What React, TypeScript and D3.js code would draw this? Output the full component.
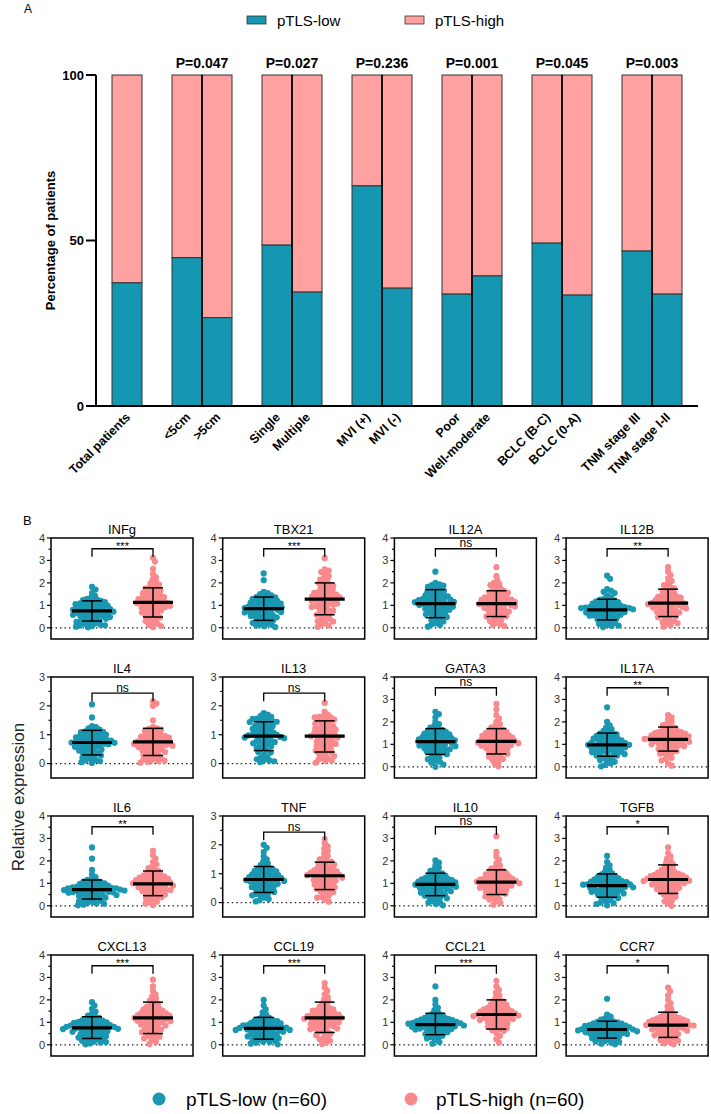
import * as d3 from 'd3'

const FONT = 'Arial, "Liberation Sans", Helvetica, sans-serif'
const TEAL = '#1597b1'
const PINK = '#ffa1a1'
const DOT_LOW = '#1a97b1'
const DOT_HIGH = '#f8898c'

// ---- panel A: stacked percentage bars
const barLabels = ['Total patients', '<5cm', '>5cm', 'Single', 'Multiple', 'MVI (+)', 'MVI (-)', 'Poor', 'Well-moderate', 'BCLC (B-C)', 'BCLC (0-A)', 'TNM stage III', 'TNM stage I-II']
const lowPercent = [37.2, 44.8, 26.7, 48.6, 34.4, 66.5, 35.6, 33.8, 39.3, 49.2, 33.5, 46.8, 33.8]
const pLabels = ['P=0.047', 'P=0.027', 'P=0.236', 'P=0.001', 'P=0.045', 'P=0.003']
const percentTicks = [0, 50, 100]

// ---- panel B: expression dot plots
const genes = ['INFg', 'TBX21', 'IL12A', 'IL12B', 'IL4', 'IL13', 'GATA3', 'IL17A', 'IL6', 'TNF', 'IL10', 'TGFB', 'CXCL13', 'CCL19', 'CCL21', 'CCR7']
const yMax = [4, 4, 4, 4, 3, 3, 4, 4, 4, 3, 4, 4, 4, 4, 4, 4]
const sigMarks = ['***', '***', 'ns', '**', 'ns', 'ns', 'ns', '**', '**', 'ns', 'ns', '*', '***', '***', '***', '*']
const lowMean = [0.75, 0.85, 1.08, 0.8, 0.73, 0.95, 1.12, 0.98, 0.72, 0.8, 0.95, 0.9, 0.75, 0.73, 0.9, 0.68]
const lowSdMin = [0.3, 0.33, 0.45, 0.35, 0.3, 0.45, 0.55, 0.47, 0.3, 0.35, 0.45, 0.38, 0.28, 0.25, 0.45, 0.3]
const lowSdMax = [1.2, 1.37, 1.7, 1.27, 1.15, 1.45, 1.7, 1.5, 1.15, 1.25, 1.45, 1.42, 1.25, 1.22, 1.4, 1.05]
const highMean = [1.13, 1.28, 1.08, 1.1, 0.75, 0.95, 1.13, 1.22, 0.98, 0.93, 1.05, 1.17, 1.2, 1.2, 1.35, 0.88]
const highSdMin = [0.48, 0.58, 0.5, 0.5, 0.28, 0.4, 0.57, 0.7, 0.45, 0.45, 0.5, 0.55, 0.5, 0.55, 0.7, 0.33]
const highSdMax = [1.78, 2.0, 1.65, 1.72, 1.22, 1.48, 1.7, 1.77, 1.55, 1.4, 1.6, 1.82, 1.9, 1.9, 2.0, 1.45]

const infgLow = [0.02, 0.05, 0.07, 0.1, 0.11, 0.14, 0.17, 0.2, 0.23, 0.26, 0.28, 0.32, 0.35, 0.37, 0.4, 0.43, 0.46, 0.48, 0.51, 0.54, 0.56, 0.58, 0.61, 0.63, 0.65, 0.67, 0.7, 0.72, 0.74, 0.76, 0.78, 0.8, 0.82, 0.84, 0.87, 0.89, 0.91, 0.94, 0.96, 0.99, 1.01, 1.04, 1.06, 1.09, 1.11, 1.14, 1.17, 1.2, 1.23, 1.26, 1.29, 1.05, 0.86, 0.69, 0.53, 1.35, 1.42, 1.55, 1.7, 1.82]
const infgHigh = [0.03, 0.08, 0.12, 0.18, 0.22, 0.3, 0.35, 0.41, 0.46, 0.5, 0.55, 0.6, 0.64, 0.68, 0.72, 0.77, 0.8, 0.84, 0.88, 0.92, 0.95, 0.98, 1.01, 1.04, 1.07, 1.1, 1.12, 1.15, 1.17, 1.2, 1.23, 1.26, 1.28, 1.31, 1.34, 1.37, 1.4, 1.43, 1.46, 1.5, 1.54, 1.58, 1.62, 1.66, 1.7, 1.75, 1.8, 1.86, 1.92, 1.98, 2.05, 2.15, 2.25, 2.38, 2.62, 2.95, 3.12, 1.0, 1.13, 0.9]
const tbx21Low = [0.03, 0.07, 0.1, 0.13, 0.18, 0.22, 0.27, 0.3, 0.34, 0.38, 0.42, 0.45, 0.49, 0.53, 0.56, 0.6, 0.63, 0.66, 0.7, 0.73, 0.76, 0.79, 0.82, 0.85, 0.87, 0.9, 0.92, 0.95, 0.97, 1.0, 1.02, 1.05, 1.07, 1.1, 1.12, 1.15, 1.18, 1.2, 1.23, 1.26, 1.29, 1.32, 1.36, 1.4, 1.45, 1.5, 1.55, 0.88, 0.8, 0.75, 0.94, 1.08, 0.58, 0.47, 0.15, 0.68, 1.38, 1.6, 2.12, 2.42]
const tbx21High = [0.04, 0.1, 0.15, 0.2, 0.28, 0.34, 0.4, 0.46, 0.52, 0.58, 0.64, 0.7, 0.76, 0.82, 0.88, 0.93, 0.98, 1.03, 1.08, 1.12, 1.16, 1.2, 1.24, 1.27, 1.3, 1.33, 1.36, 1.4, 1.44, 1.48, 1.52, 1.56, 1.6, 1.64, 1.68, 1.72, 1.77, 1.82, 1.87, 1.92, 1.97, 2.02, 2.08, 2.15, 2.22, 2.3, 2.4, 2.48, 2.55, 2.6, 3.1, 1.25, 1.1, 0.95, 0.6, 0.3, 1.42, 1.5, 1.0, 0.78]
const il12aLow = [0.05, 0.12, 0.2, 0.28, 0.35, 0.42, 0.48, 0.55, 0.6, 0.65, 0.7, 0.75, 0.8, 0.85, 0.9, 0.94, 0.98, 1.02, 1.05, 1.08, 1.11, 1.14, 1.17, 1.2, 1.23, 1.26, 1.29, 1.32, 1.36, 1.4, 1.44, 1.48, 1.52, 1.56, 1.6, 1.64, 1.68, 1.72, 1.76, 1.82, 1.88, 1.93, 2.0, 2.5, 1.0, 1.1, 0.88, 0.62, 0.3, 1.3, 1.15, 0.95, 0.72, 0.5, 1.45, 0.15, 1.25, 0.82, 1.06, 1.9]
const il12aHigh = [0.08, 0.15, 0.22, 0.3, 0.38, 0.45, 0.52, 0.58, 0.63, 0.68, 0.72, 0.77, 0.81, 0.85, 0.89, 0.93, 0.97, 1.0, 1.03, 1.06, 1.09, 1.12, 1.15, 1.18, 1.21, 1.24, 1.27, 1.3, 1.33, 1.36, 1.4, 1.44, 1.48, 1.52, 1.56, 1.6, 1.65, 1.7, 1.76, 1.82, 1.9, 2.0, 2.12, 2.3, 2.7, 1.05, 0.95, 1.1, 0.6, 0.35, 1.25, 0.83, 1.2, 0.5, 1.38, 0.12, 1.0, 0.75, 1.58, 1.95]
const il12bLow = [0.03, 0.08, 0.12, 0.17, 0.22, 0.27, 0.32, 0.37, 0.42, 0.46, 0.5, 0.54, 0.58, 0.62, 0.65, 0.68, 0.71, 0.74, 0.77, 0.8, 0.82, 0.84, 0.86, 0.88, 0.9, 0.93, 0.96, 0.99, 1.02, 1.05, 1.08, 1.11, 1.14, 1.18, 1.22, 1.26, 1.3, 1.36, 1.45, 1.55, 1.65, 1.72, 2.18, 2.32, 0.85, 0.79, 0.7, 0.6, 0.92, 0.45, 0.25, 0.1, 1.0, 0.75, 0.55, 0.88, 1.2, 0.95, 0.66, 1.6]
const il12bHigh = [0.05, 0.1, 0.18, 0.25, 0.32, 0.4, 0.47, 0.53, 0.58, 0.63, 0.68, 0.73, 0.78, 0.82, 0.86, 0.9, 0.94, 0.98, 1.02, 1.05, 1.08, 1.11, 1.14, 1.17, 1.2, 1.23, 1.26, 1.3, 1.34, 1.38, 1.42, 1.46, 1.5, 1.55, 1.6, 1.65, 1.7, 1.76, 1.82, 1.9, 1.98, 2.08, 2.2, 2.35, 2.5, 2.7, 1.0, 1.12, 0.95, 0.7, 0.5, 0.2, 1.15, 1.28, 0.88, 0.6, 1.4, 1.07, 0.8, 0.3]
const il4Low = [0.02, 0.05, 0.08, 0.12, 0.16, 0.2, 0.24, 0.28, 0.32, 0.36, 0.4, 0.44, 0.48, 0.52, 0.55, 0.58, 0.61, 0.64, 0.67, 0.7, 0.72, 0.74, 0.76, 0.78, 0.8, 0.82, 0.85, 0.88, 0.91, 0.94, 0.97, 1.0, 1.03, 1.06, 1.09, 1.12, 1.15, 1.18, 1.22, 1.26, 1.3, 1.6, 2.05, 0.73, 0.69, 0.77, 0.6, 0.5, 0.9, 0.35, 0.1, 0.84, 1.0, 0.65, 0.45, 1.1, 0.25, 0.95, 0.7, 0.8]
const il4High = [0.03, 0.06, 0.1, 0.14, 0.18, 0.22, 0.26, 0.3, 0.34, 0.38, 0.42, 0.46, 0.5, 0.54, 0.57, 0.6, 0.63, 0.66, 0.69, 0.72, 0.75, 0.78, 0.81, 0.84, 0.87, 0.9, 0.93, 0.96, 0.99, 1.02, 1.06, 1.1, 1.14, 1.18, 1.22, 1.26, 1.5, 2.0, 2.08, 2.16, 0.74, 0.7, 0.8, 0.62, 0.52, 0.4, 0.2, 0.08, 0.85, 0.95, 0.68, 0.58, 1.0, 1.2, 0.9, 0.45, 0.3, 0.76, 0.65, 0.12]
const il13Low = [0.05, 0.1, 0.15, 0.22, 0.3, 0.38, 0.45, 0.5, 0.55, 0.6, 0.65, 0.7, 0.75, 0.8, 0.84, 0.88, 0.92, 0.96, 1.0, 1.04, 1.08, 1.12, 1.16, 1.2, 1.24, 1.28, 1.32, 1.36, 1.4, 1.44, 1.48, 1.52, 1.56, 1.6, 1.65, 1.7, 1.75, 0.95, 0.9, 1.0, 0.85, 0.78, 1.1, 1.3, 1.5, 0.68, 0.4, 0.2, 0.08, 1.45, 1.55, 1.2, 0.98, 0.58, 1.62, 0.72, 1.38, 0.92, 1.05, 0.12]
const il13High = [0.03, 0.08, 0.14, 0.2, 0.26, 0.32, 0.38, 0.44, 0.5, 0.55, 0.6, 0.65, 0.7, 0.75, 0.8, 0.85, 0.9, 0.95, 1.0, 1.05, 1.1, 1.15, 1.2, 1.25, 1.3, 1.35, 1.4, 1.45, 1.5, 1.55, 1.6, 1.65, 1.7, 1.8, 2.1, 0.92, 0.98, 1.02, 0.88, 0.62, 0.45, 0.3, 0.1, 1.12, 1.22, 1.38, 1.48, 0.72, 0.82, 1.6, 0.52, 1.08, 0.95, 0.18, 1.3, 1.62, 0.68, 0.4, 1.18, 1.52]
const gata3Low = [0.0, 0.1, 0.18, 0.26, 0.34, 0.42, 0.5, 0.56, 0.62, 0.68, 0.73, 0.78, 0.83, 0.88, 0.92, 0.96, 1.0, 1.04, 1.08, 1.12, 1.16, 1.2, 1.24, 1.28, 1.32, 1.36, 1.4, 1.44, 1.48, 1.52, 1.56, 1.6, 1.65, 1.7, 1.75, 1.82, 1.9, 2.0, 2.2, 2.35, 2.45, 1.1, 1.15, 1.05, 0.95, 0.8, 0.65, 0.4, 1.3, 1.25, 1.45, 1.6, 0.9, 1.0, 1.18, 0.7, 1.38, 0.22, 1.22, 0.85]
const gata3High = [0.02, 0.12, 0.22, 0.3, 0.38, 0.45, 0.52, 0.58, 0.64, 0.7, 0.75, 0.8, 0.85, 0.9, 0.94, 0.98, 1.02, 1.06, 1.1, 1.14, 1.18, 1.22, 1.26, 1.3, 1.34, 1.38, 1.42, 1.46, 1.5, 1.55, 1.6, 1.65, 1.7, 1.76, 1.82, 1.9, 2.0, 2.15, 2.3, 2.55, 2.8, 1.12, 1.08, 1.2, 0.96, 0.88, 0.6, 0.35, 1.28, 1.4, 1.0, 0.72, 1.15, 1.5, 0.82, 1.35, 0.5, 1.05, 1.62, 1.25]
const il17aLow = [0.02, 0.08, 0.15, 0.22, 0.3, 0.37, 0.44, 0.5, 0.56, 0.62, 0.67, 0.72, 0.77, 0.82, 0.86, 0.9, 0.94, 0.98, 1.02, 1.06, 1.1, 1.14, 1.18, 1.22, 1.26, 1.3, 1.35, 1.4, 1.45, 1.5, 1.55, 1.6, 1.68, 1.75, 1.85, 2.0, 2.65, 0.95, 1.0, 0.88, 0.8, 0.7, 0.58, 0.4, 1.12, 1.25, 1.38, 0.92, 1.05, 0.6, 0.25, 1.2, 0.75, 1.48, 0.84, 1.08, 0.5, 0.98, 1.32, 0.65]
const il17aHigh = [0.05, 0.15, 0.28, 0.4, 0.5, 0.58, 0.65, 0.72, 0.78, 0.84, 0.9, 0.95, 1.0, 1.04, 1.08, 1.12, 1.16, 1.2, 1.24, 1.28, 1.32, 1.36, 1.4, 1.44, 1.48, 1.52, 1.56, 1.6, 1.65, 1.7, 1.75, 1.8, 1.86, 1.92, 2.0, 2.1, 2.2, 2.3, 1.22, 1.18, 1.3, 1.1, 1.02, 0.92, 0.8, 0.6, 1.38, 1.45, 1.55, 1.26, 0.98, 1.34, 1.62, 0.7, 1.15, 1.42, 0.35, 1.25, 1.06, 1.5]
const il6Low = [0.02, 0.05, 0.09, 0.13, 0.17, 0.22, 0.27, 0.32, 0.36, 0.4, 0.44, 0.48, 0.52, 0.55, 0.58, 0.61, 0.64, 0.67, 0.7, 0.72, 0.74, 0.76, 0.78, 0.8, 0.83, 0.86, 0.89, 0.92, 0.95, 0.98, 1.01, 1.05, 1.1, 1.15, 1.2, 1.28, 1.4, 1.6, 2.1, 2.6, 0.7, 0.68, 0.75, 0.6, 0.5, 0.38, 0.2, 0.1, 0.85, 0.9, 0.78, 0.65, 0.55, 1.0, 0.3, 0.82, 0.72, 0.45, 1.08, 0.62]
const il6High = [0.03, 0.1, 0.18, 0.25, 0.32, 0.38, 0.44, 0.5, 0.55, 0.6, 0.65, 0.7, 0.74, 0.78, 0.82, 0.86, 0.9, 0.94, 0.98, 1.02, 1.06, 1.1, 1.14, 1.18, 1.22, 1.26, 1.3, 1.35, 1.4, 1.45, 1.5, 1.55, 1.6, 1.68, 1.76, 1.85, 1.95, 2.1, 2.25, 2.45, 0.96, 1.0, 0.92, 1.08, 0.84, 0.72, 0.58, 0.4, 1.15, 1.25, 1.38, 0.15, 0.65, 1.2, 0.88, 1.32, 0.5, 1.04, 0.76, 1.12]
const tnfLow = [0.04, 0.08, 0.12, 0.17, 0.22, 0.27, 0.32, 0.37, 0.42, 0.46, 0.5, 0.54, 0.58, 0.62, 0.66, 0.7, 0.73, 0.76, 0.79, 0.82, 0.85, 0.88, 0.91, 0.94, 0.97, 1.0, 1.04, 1.08, 1.12, 1.16, 1.2, 1.25, 1.3, 1.36, 1.42, 1.5, 1.6, 1.75, 1.9, 2.0, 0.8, 0.78, 0.84, 0.72, 0.65, 0.55, 0.4, 0.25, 0.9, 0.95, 1.05, 0.68, 0.6, 1.1, 0.3, 0.86, 0.75, 0.98, 0.48, 1.18]
const tnfHigh = [0.03, 0.1, 0.17, 0.24, 0.3, 0.36, 0.42, 0.48, 0.53, 0.58, 0.63, 0.68, 0.72, 0.76, 0.8, 0.84, 0.88, 0.92, 0.96, 1.0, 1.04, 1.08, 1.12, 1.16, 1.2, 1.25, 1.3, 1.35, 1.4, 1.45, 1.5, 1.55, 1.62, 1.7, 1.78, 1.86, 1.95, 2.05, 2.2, 0.93, 0.9, 0.98, 0.86, 0.74, 0.6, 0.45, 1.1, 1.22, 1.32, 0.82, 0.66, 1.02, 0.2, 1.42, 0.95, 0.55, 1.15, 0.78, 1.06, 0.38]
const il10Low = [0.02, 0.08, 0.14, 0.2, 0.27, 0.33, 0.39, 0.45, 0.5, 0.55, 0.6, 0.65, 0.7, 0.74, 0.78, 0.82, 0.86, 0.9, 0.94, 0.98, 1.02, 1.06, 1.1, 1.14, 1.18, 1.22, 1.26, 1.3, 1.35, 1.4, 1.45, 1.5, 1.56, 1.62, 1.7, 1.8, 1.92, 2.02, 0.95, 0.92, 1.0, 0.88, 0.8, 0.68, 0.52, 0.35, 1.08, 1.16, 1.25, 0.97, 0.75, 1.38, 0.62, 0.85, 1.12, 0.42, 1.04, 0.58, 1.2, 0.15]
const il10High = [0.05, 0.12, 0.2, 0.28, 0.35, 0.42, 0.48, 0.54, 0.6, 0.65, 0.7, 0.75, 0.8, 0.85, 0.9, 0.94, 0.98, 1.02, 1.06, 1.1, 1.14, 1.18, 1.22, 1.26, 1.3, 1.35, 1.4, 1.45, 1.5, 1.55, 1.6, 1.66, 1.72, 1.8, 1.9, 2.05, 2.2, 2.4, 3.1, 1.05, 1.0, 1.08, 0.96, 0.88, 0.72, 0.56, 1.12, 1.2, 1.32, 0.82, 0.64, 1.42, 0.3, 1.16, 0.92, 1.25, 0.45, 1.04, 1.52, 0.78]
const tgfbLow = [0.02, 0.08, 0.14, 0.2, 0.26, 0.32, 0.38, 0.44, 0.5, 0.55, 0.6, 0.65, 0.7, 0.74, 0.78, 0.82, 0.86, 0.9, 0.94, 0.98, 1.02, 1.06, 1.1, 1.14, 1.18, 1.22, 1.26, 1.3, 1.35, 1.4, 1.45, 1.52, 1.6, 1.7, 1.8, 1.95, 2.22, 0.9, 0.87, 0.95, 0.84, 0.76, 0.62, 0.48, 1.0, 1.08, 1.16, 0.92, 0.7, 1.24, 0.35, 0.8, 1.04, 0.58, 1.12, 0.12, 0.96, 0.66, 1.32, 0.52]
const tgfbHigh = [0.0, 0.1, 0.2, 0.3, 0.4, 0.48, 0.55, 0.62, 0.68, 0.74, 0.8, 0.85, 0.9, 0.95, 1.0, 1.04, 1.08, 1.12, 1.16, 1.2, 1.24, 1.28, 1.32, 1.36, 1.4, 1.45, 1.5, 1.55, 1.6, 1.66, 1.72, 1.78, 1.85, 1.92, 2.0, 2.1, 2.2, 2.35, 2.6, 1.17, 1.14, 1.22, 1.1, 1.02, 0.92, 0.78, 0.6, 1.3, 1.38, 1.48, 1.06, 0.86, 1.25, 0.5, 1.42, 0.98, 1.18, 0.7, 1.34, 0.25]
const cxcl13Low = [0.02, 0.06, 0.1, 0.14, 0.18, 0.22, 0.26, 0.3, 0.34, 0.38, 0.42, 0.46, 0.5, 0.54, 0.58, 0.62, 0.65, 0.68, 0.71, 0.74, 0.77, 0.8, 0.83, 0.86, 0.89, 0.92, 0.95, 0.98, 1.02, 1.06, 1.1, 1.15, 1.2, 1.25, 1.3, 1.38, 1.48, 1.6, 1.75, 1.9, 0.75, 0.72, 0.78, 0.7, 0.6, 0.48, 0.32, 0.12, 0.85, 0.9, 0.95, 1.0, 0.66, 0.55, 1.08, 0.4, 0.8, 1.12, 0.25, 0.88]
const cxcl13High = [0.04, 0.12, 0.2, 0.28, 0.36, 0.44, 0.5, 0.56, 0.62, 0.68, 0.74, 0.8, 0.86, 0.92, 0.97, 1.02, 1.07, 1.12, 1.17, 1.22, 1.27, 1.32, 1.37, 1.42, 1.47, 1.52, 1.58, 1.64, 1.7, 1.76, 1.82, 1.9, 1.98, 2.06, 2.15, 2.25, 2.4, 2.6, 2.9, 1.2, 1.15, 1.25, 1.1, 1.0, 0.9, 0.7, 0.4, 1.3, 1.4, 1.55, 1.05, 0.82, 1.62, 0.6, 1.35, 0.95, 1.18, 0.3, 1.45, 1.28]
const ccl19Low = [0.02, 0.05, 0.09, 0.13, 0.17, 0.21, 0.25, 0.29, 0.33, 0.37, 0.41, 0.45, 0.49, 0.53, 0.57, 0.6, 0.63, 0.66, 0.69, 0.72, 0.75, 0.78, 0.81, 0.84, 0.87, 0.9, 0.94, 0.98, 1.02, 1.06, 1.1, 1.15, 1.2, 1.26, 1.34, 1.45, 1.58, 1.75, 2.0, 0.73, 0.7, 0.76, 0.66, 0.58, 0.46, 0.3, 0.12, 0.82, 0.88, 0.96, 1.0, 0.62, 0.5, 1.08, 0.38, 0.8, 1.12, 0.22, 0.92, 0.68]
const ccl19High = [0.03, 0.1, 0.18, 0.26, 0.34, 0.42, 0.5, 0.57, 0.63, 0.69, 0.75, 0.8, 0.86, 0.92, 0.97, 1.02, 1.07, 1.12, 1.17, 1.22, 1.27, 1.32, 1.37, 1.42, 1.47, 1.52, 1.58, 1.64, 1.7, 1.77, 1.85, 1.93, 2.02, 2.12, 2.25, 2.4, 2.55, 2.75, 1.2, 1.16, 1.24, 1.1, 1.0, 0.9, 0.72, 0.45, 1.3, 1.4, 1.55, 1.05, 0.82, 1.62, 0.6, 1.35, 0.95, 1.18, 0.25, 1.45, 1.28, 0.78]
const ccl21Low = [0.05, 0.12, 0.2, 0.28, 0.35, 0.42, 0.48, 0.54, 0.6, 0.65, 0.7, 0.74, 0.78, 0.82, 0.86, 0.9, 0.94, 0.98, 1.02, 1.06, 1.1, 1.14, 1.18, 1.22, 1.27, 1.32, 1.38, 1.45, 1.55, 1.65, 1.8, 2.0, 2.6, 0.9, 0.88, 0.92, 0.84, 0.76, 0.68, 0.56, 0.4, 0.96, 1.0, 1.04, 1.12, 0.8, 0.72, 1.2, 0.62, 0.94, 1.08, 0.5, 1.3, 0.86, 0.98, 0.3, 1.16, 0.74, 1.02, 0.82]
const ccl21High = [0.1, 0.25, 0.4, 0.52, 0.62, 0.7, 0.78, 0.85, 0.92, 0.98, 1.04, 1.1, 1.15, 1.2, 1.25, 1.3, 1.35, 1.4, 1.45, 1.5, 1.55, 1.6, 1.66, 1.72, 1.78, 1.85, 1.92, 2.0, 2.1, 2.2, 2.32, 2.45, 2.6, 2.85, 1.35, 1.32, 1.38, 1.28, 1.18, 1.08, 0.95, 0.8, 1.42, 1.48, 1.58, 1.22, 1.12, 1.7, 0.88, 1.62, 1.02, 1.52, 0.65, 1.44, 1.26, 1.36, 0.75, 1.8, 1.16, 1.95]
const ccr7Low = [0.02, 0.05, 0.09, 0.13, 0.17, 0.21, 0.25, 0.29, 0.33, 0.37, 0.41, 0.45, 0.49, 0.52, 0.55, 0.58, 0.61, 0.64, 0.67, 0.7, 0.73, 0.76, 0.79, 0.82, 0.85, 0.88, 0.91, 0.94, 0.97, 1.0, 1.04, 1.08, 1.12, 1.18, 1.25, 1.35, 2.05, 0.68, 0.66, 0.7, 0.62, 0.56, 0.48, 0.36, 0.15, 0.75, 0.8, 0.86, 0.9, 0.6, 0.5, 0.95, 0.4, 0.72, 1.02, 0.26, 0.84, 0.64, 0.78, 0.54]
const ccr7High = [0.02, 0.07, 0.12, 0.18, 0.24, 0.3, 0.36, 0.42, 0.48, 0.53, 0.58, 0.63, 0.68, 0.72, 0.76, 0.8, 0.84, 0.88, 0.92, 0.96, 1.0, 1.04, 1.08, 1.12, 1.16, 1.2, 1.25, 1.3, 1.36, 1.42, 1.5, 1.6, 1.72, 1.85, 2.0, 2.2, 2.38, 2.55, 0.88, 0.86, 0.9, 0.82, 0.74, 0.64, 0.5, 0.34, 0.95, 1.02, 1.1, 0.78, 0.6, 1.18, 0.44, 0.98, 1.06, 0.2, 1.28, 0.7, 0.92, 1.14]

const lowPoints = [infgLow, tbx21Low, il12aLow, il12bLow, il4Low, il13Low, gata3Low, il17aLow, il6Low, tnfLow, il10Low, tgfbLow, cxcl13Low, ccl19Low, ccl21Low, ccr7Low]
const highPoints = [infgHigh, tbx21High, il12aHigh, il12bHigh, il4High, il13High, gata3High, il17aHigh, il6High, tnfHigh, il10High, tgfbHigh, cxcl13High, ccl19High, ccl21High, ccr7High]

// simple beeswarm: each point takes the x offset closest to the centre that doesn't collide
function swarm(values: number[], y: (v: number) => number, gap: number) {
  const pts = values.map(v => ({ v, y: y(v) })).sort((a, b) => a.y - b.y)
  const placed: { x: number, y: number }[] = []
  pts.forEach(p => {
    let k = 0
    while (true) {
      const cand = k === 0 ? 0 : (k % 2 ? 1 : -1) * Math.ceil(k / 2) * 0.5
      const ok = placed.every(q => (q.x - cand) ** 2 + (q.y - p.y) ** 2 >= gap * gap)
      if (ok) { placed.push({ x: cand, y: p.y }); break }
      k++
    }
  })
  return placed
}

function PanelA() {
  const slots = barLabels.map((_, i) => i === 0 ? 0 : i + Math.floor((i - 1) / 2) + 1)
  const x = d3.scaleBand<number>().domain(d3.range(19)).range([112, 682]).padding(0)
  const y = d3.scaleLinear().domain([0, 100]).range([406, 75])
  const bw = x.bandwidth()
  return (
    <g fontFamily={FONT}>
      <text x={24} y={13} fontSize={12}>A</text>
      {/* legend */}
      <rect x={247} y={16} width={19} height={8} fill={TEAL} stroke="#333" strokeWidth={0.8} />
      <text x={277} y={26} fontSize={15}>pTLS-low</text>
      <rect x={405} y={16} width={19} height={8} fill={PINK} stroke="#333" strokeWidth={0.8} />
      <text x={435} y={26} fontSize={15}>pTLS-high</text>

      {barLabels.map((lab, i) => {
        const bx = x(slots[i])!
        return (
          <g key={lab}>
            <rect x={bx} y={y(100)} width={bw} height={y(lowPercent[i]) - y(100)} fill={PINK} stroke="#333" strokeWidth={1} />
            <rect x={bx} y={y(lowPercent[i])} width={bw} height={y(0) - y(lowPercent[i])} fill={TEAL} stroke="#333" strokeWidth={1} />
          </g>
        )
      })}
      {/* darker divider between paired bars */}
      {pLabels.map((p, k) => {
        const xm = x(slots[2 * k + 1])! + bw
        return (
          <g key={p}>
            <line x1={xm} x2={xm} y1={y(100)} y2={y(0)} stroke="#111" strokeWidth={2} />
            <text x={xm} y={68} fontSize={14} fontWeight="bold" textAnchor="middle">{p}</text>
          </g>
        )
      })}
      {/* axes */}
      <line x1={96} x2={96} y1={y(100)} y2={y(0)} stroke="#000" strokeWidth={2} />
      <line x1={95} x2={698} y1={y(0)} y2={y(0)} stroke="#000" strokeWidth={2} />
      {percentTicks.map(t => (
        <g key={t}>
          <line x1={86} x2={96} y1={y(t)} y2={y(t)} stroke="#000" strokeWidth={2} />
          <text x={84} y={y(t)} dy="0.35em" fontSize={13} fontWeight="bold" textAnchor="end">{t}</text>
        </g>
      ))}
      <text transform={`translate(55,${y(50)}) rotate(-90)`} fontSize={13} fontWeight="bold" textAnchor="middle">Percentage of patients</text>
      {barLabels.map((lab, i) => {
        const cx = x(slots[i])! + bw / 2 + 4
        return (
          <text key={lab} transform={`translate(${cx},${y(0) + 12}) rotate(-45)`} fontSize={12.5} fontWeight="bold" textAnchor="end">{lab}</text>
        )
      })}
    </g>
  )
}

function GenePanel({ i }: { i: number }) {
  const col = i % 4
  const row = Math.floor(i / 4)
  const x0 = 51 + col * 171.7
  const y0 = 538 + row * 139
  const w = 142
  const h = 101
  const y = d3.scaleLinear().domain([-0.5, yMax[i]]).range([y0 + h, y0])
  const x = d3.scalePoint().domain(['low', 'high']).range([x0 + 41, x0 + 102])
  const ticks = d3.range(0, yMax[i] + 0.01, 0.5)
  const bracketY = y(yMax[i] === 4 ? 3.52 : 2.44)
  const isNs = sigMarks[i] === 'ns'
  const groups = [
    { key: 'low', pts: lowPoints[i], color: DOT_LOW, mean: lowMean[i], lo: lowSdMin[i], hi: lowSdMax[i] },
    { key: 'high', pts: highPoints[i], color: DOT_HIGH, mean: highMean[i], lo: highSdMin[i], hi: highSdMax[i] },
  ]
  return (
    <g fontFamily={FONT}>
      <text x={x0 + w / 2} y={y0 - 4} fontSize={13} textAnchor="middle">{genes[i]}</text>
      <line x1={x0} x2={x0 + w} y1={y(0)} y2={y(0)} stroke="#222" strokeWidth={1.3} strokeDasharray="1.5,3" />
      {groups.map(g => {
        const cx = x(g.key)!
        const sw = swarm(g.pts, y, 4.1)
        return (
          <g key={g.key}>
            {sw.map((p, j) => <circle key={j} cx={cx + p.x} cy={p.y} r={3.1} fill={g.color} />)}
            <line x1={cx} x2={cx} y1={y(g.hi)} y2={y(g.lo)} stroke="#000" strokeWidth={1.5} />
            <line x1={cx - 10} x2={cx + 10} y1={y(g.hi)} y2={y(g.hi)} stroke="#000" strokeWidth={1.5} />
            <line x1={cx - 10} x2={cx + 10} y1={y(g.lo)} y2={y(g.lo)} stroke="#000" strokeWidth={1.5} />
            <line x1={cx - 20} x2={cx + 20} y1={y(g.mean)} y2={y(g.mean)} stroke="#000" strokeWidth={3.2} />
          </g>
        )
      })}
      <path d={`M${x('low')},${bracketY + 8}V${bracketY}H${x('high')}V${bracketY + 8}`} fill="none" stroke="#000" strokeWidth={1.3} />
      <text x={(x('low')! + x('high')!) / 2} y={isNs ? bracketY - 1.5 : bracketY + 1} fontSize={isNs ? 12 : 11} textAnchor="middle">{sigMarks[i]}</text>
      <rect x={x0} y={y0} width={w} height={h} fill="none" stroke="#000" strokeWidth={1.5} />
      {ticks.map(t => {
        const major = Number.isInteger(t)
        return (
          <g key={t}>
            <line x1={x0 - (major ? 4 : 2.5)} x2={x0} y1={y(t)} y2={y(t)} stroke="#000" strokeWidth={1.2} />
            {major && <text x={x0 - 6} y={y(t)} dy="0.35em" fontSize={11} fill="#333" textAnchor="end">{t}</text>}
          </g>
        )
      })}
    </g>
  )
}

export default function App() {
  return (
    <svg width={711} height={1114} style={{ position: 'absolute', left: 0, top: 0, background: '#fff' }}>
      <PanelA />
      <text x={23} y={525} fontSize={13} fontFamily={FONT}>B</text>
      {genes.map((_, i) => <GenePanel key={i} i={i} />)}
      <text transform="translate(24,797) rotate(-90)" fontSize={17} fontFamily={FONT} textAnchor="middle" fill="#222">Relative expression</text>
      <g fontFamily={FONT} fontSize={19}>
        <circle cx={159} cy={1099} r={6.5} fill={DOT_LOW} />
        <text x={186} y={1099} dy="0.35em">pTLS-low (n=60)</text>
        <circle cx={411} cy={1099} r={6.5} fill={DOT_HIGH} />
        <text x={436} y={1099} dy="0.35em">pTLS-high (n=60)</text>
      </g>
    </svg>
  )
}
